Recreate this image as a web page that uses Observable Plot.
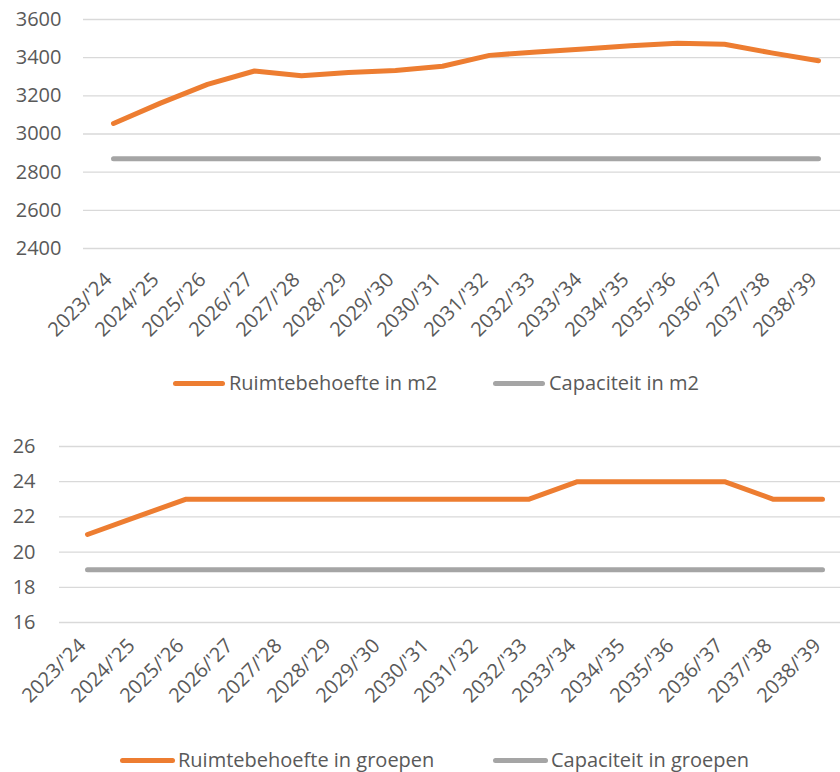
<!DOCTYPE html>
<html><head><meta charset="utf-8">
<script src="https://cdn.jsdelivr.net/npm/d3@7"></script>
<script src="https://cdn.jsdelivr.net/npm/@observablehq/plot@0.6"></script>
<style>
body{margin:0;background:#fff;font-family:"Open Sans",sans-serif;color:#595959;}
#wrap{position:relative;width:840px;height:772px;overflow:hidden;}
.chart{position:absolute;left:0;}
.lg{position:absolute;height:24px;line-height:24px;font-size:20px;color:#595959;white-space:nowrap;}
.sw{position:absolute;height:5px;border-radius:3px;}
</style></head>
<body><div id="wrap"></div>
<script>
const years = ["2023/'24","2024/'25","2025/'26","2026/'27","2027/'28","2028/'29","2029/'30","2030/'31","2031/'32","2032/'33","2033/'34","2034/'35","2035/'36","2036/'37","2037/'38","2038/'39"];
const ruimteM2 = [3055,3162,3260,3330,3305,3322,3333,3355,3412,3430,3446,3462,3476,3470,3425,3384];
const capaciteitM2 = [2870,2870,2870,2870,2870,2870,2870,2870,2870,2870,2870,2870,2870,2870,2870,2870];
const ruimteGroepen = [21,22,23,23,23,23,23,23,23,23,24,24,24,24,23,23];
const capaciteitGroepen = [19,19,19,19,19,19,19,19,19,19,19,19,19,19,19,19];
const ticksM2 = [2400,2600,2800,3000,3200,3400,3600];
const ticksGroepen = [16,18,20,22,24,26];
const legend1 = ["Ruimtebehoefte in m2","Capaciteit in m2"];
const legend2 = ["Ruimtebehoefte in groepen","Capaciteit in groepen"];
const ORANGE = "#ED7D31", GRAY = "#A5A5A5";

function rows(vals){ return years.map((y,i)=>({year:y, value:vals[i]})); }

function makeChart(o){
  return Plot.plot({
    width: 840, height: o.height,
    marginLeft: o.ml, marginRight: 0, marginTop: o.top, marginBottom: o.height - o.bottom,
    style: {fontFamily: "'Open Sans', sans-serif", color: "#595959", background: "#fff"},
    x: {type: "point", domain: years, range: o.xr, padding: 0, label: null, axis: null},
    y: {domain: o.domain, range: [o.bottom, o.top], label: null, axis: null},
    marks: [
      Plot.gridY(o.ticks, {stroke: "#d9d9d9", strokeOpacity: 1, strokeWidth: 1.3}),
      Plot.axisY(o.ticks, {tickSize: 0, tickPadding: o.tp, fontSize: 20, textAnchor: "end", label: null, tickFormat: d => String(d)}),
      Plot.axisX({tickSize: 0, tickRotate: -45, tickPadding: o.xp, fontSize: 20, label: null, dx: -5}),
      Plot.line(rows(o.cap), {x: "year", y: "value", stroke: GRAY, strokeWidth: 5, strokeLinecap: "round", strokeLinejoin: "round"}),
      Plot.line(rows(o.need), {x: "year", y: "value", stroke: ORANGE, strokeWidth: 5, strokeLinecap: "round", strokeLinejoin: "round"})
    ]
  });
}

const wrap = document.getElementById("wrap");

const c1 = makeChart({height: 360, top: 19, bottom: 248, ml: 83, xr: [107, 824], domain: [2400, 3600], ticks: ticksM2, tp: 22, xp: 28, cap: capaciteitM2, need: ruimteM2});
c1.classList.add("chart"); c1.style.top = "0px"; wrap.appendChild(c1);

const c2top = 400;
const c2 = makeChart({height: 330, top: 446 - c2top, bottom: 622 - c2top, ml: 59, xr: [84, 824], domain: [16, 26], ticks: ticksGroepen, tp: 24, xp: 20, cap: capaciteitGroepen, need: ruimteGroepen});
c2.classList.add("chart"); c2.style.top = c2top + "px"; wrap.appendChild(c2);

function addLegend(labels, cy, items){
  items.forEach((it, i) => {
    const sw = document.createElement("div");
    sw.className = "sw"; sw.style.left = it.sx + "px"; sw.style.width = it.sw + "px";
    sw.style.top = (cy - 2.5) + "px"; sw.style.background = i === 0 ? ORANGE : GRAY;
    wrap.appendChild(sw);
    const t = document.createElement("div");
    t.className = "lg"; t.textContent = labels[i];
    t.style.left = it.tx + "px"; t.style.top = (cy - 12) + "px";
    wrap.appendChild(t);
  });
}
addLegend(legend1, 383, [{sx: 173, sw: 52, tx: 229}, {sx: 493, sw: 52, tx: 549}]);
addLegend(legend2, 760, [{sx: 120, sw: 55, tx: 178}, {sx: 493, sw: 55, tx: 551}]);
</script></body></html>
